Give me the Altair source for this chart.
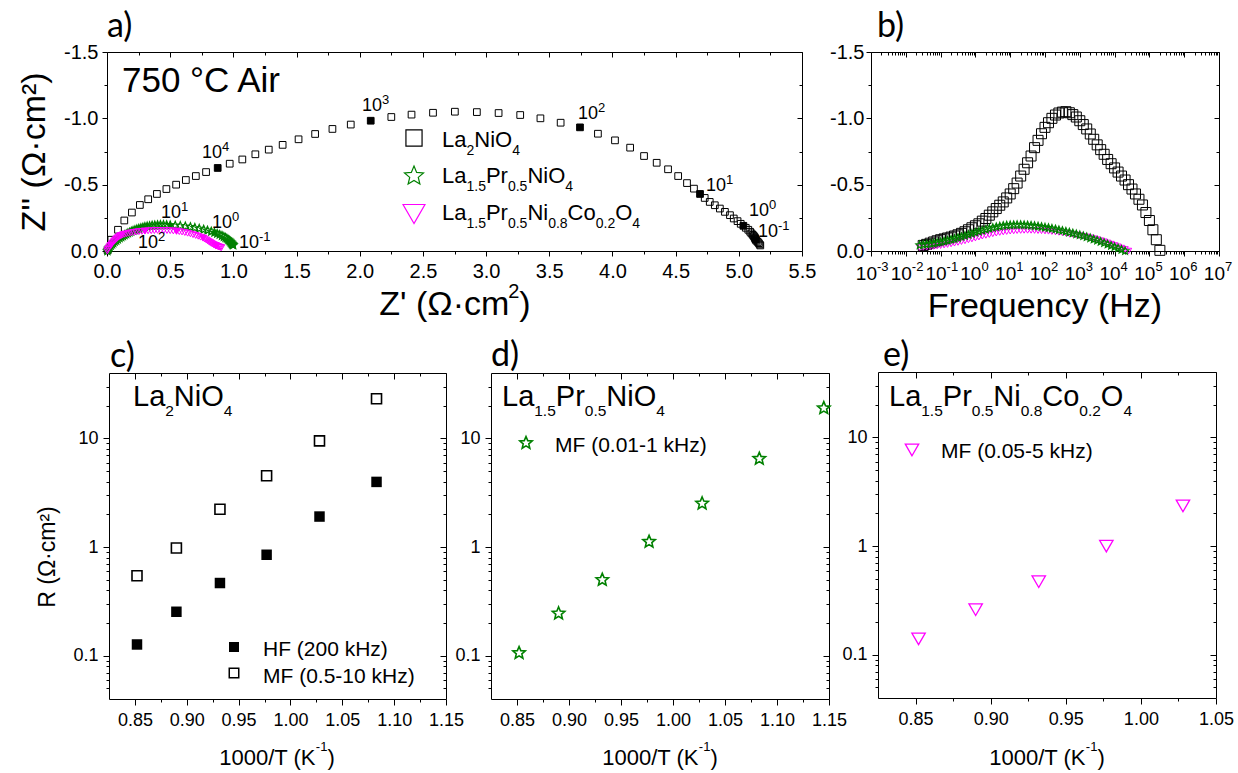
import re
import altair as alt
import pandas as pd

W, H = 1238, 773
FONT = "Liberation Sans"
LETTER_FONT = "Lato"
GREEN = "#008000"
MAGENTA = "#FF00FF"
STAR = ("M0,-1L0.265,-0.364L0.951,-0.309L0.428,0.139L0.588,0.809L0,0.45"
        "L-0.588,0.809L-0.428,0.139L-0.951,-0.309L-0.265,-0.364Z")

# ---------------- data ----------------
FREQ_HZ = [200000, 158000, 126000, 100000, 79400, 63100, 50100, 39800, 31600, 25100,
           20000, 15800, 12600, 10000, 7940, 6310, 5010, 3980, 3160, 2510,
           2000, 1580, 1260, 1000, 794, 631, 501, 398, 316, 251,
           200, 158, 126, 100, 79.4, 63.1, 50.1, 39.8, 31.6, 25.1,
           20.0, 15.8, 12.6, 10.0, 7.94, 6.31, 5.01, 3.98, 3.16, 2.51,
           2.00, 1.58, 1.26, 1.00, 0.794, 0.631, 0.501, 0.398, 0.316, 0.251,
           0.200, 0.158, 0.126, 0.100, 0.0794, 0.0631, 0.0501, 0.0398, 0.0316, 0.0251]

# La2NiO4 (FREQ_HZ[0:69])
LNO_ZRE = [0.005, 0.034, 0.087, 0.137, 0.197, 0.26, 0.326, 0.395, 0.47, 0.547,
           0.624, 0.703, 0.784, 0.876, 0.971, 1.071, 1.174, 1.28, 1.39, 1.516,
           1.647, 1.784, 1.929, 2.087, 2.25, 2.41, 2.58, 2.753, 2.927, 3.099,
           3.27, 3.43, 3.59, 3.743, 3.885, 4.02, 4.14, 4.25, 4.35, 4.44,
           4.52, 4.59, 4.645, 4.693, 4.73, 4.77, 4.81, 4.85, 4.89, 4.93,
           4.96, 4.99, 5.015, 5.036, 5.055, 5.075, 5.09, 5.10, 5.11, 5.118,
           5.124, 5.128, 5.131, 5.134, 5.14, 5.15, 5.158, 5.165, 5.17]
LNO_NZIM = [0.005, 0.085, 0.16, 0.23, 0.29, 0.347, 0.39, 0.43, 0.467, 0.50,
            0.535, 0.565, 0.595, 0.626, 0.658, 0.69, 0.729, 0.764, 0.80, 0.842,
            0.882, 0.92, 0.953, 0.982, 1.01, 1.028, 1.042, 1.05, 1.047, 1.04,
            1.025, 1.0, 0.967, 0.932, 0.884, 0.834, 0.779, 0.716, 0.665, 0.616,
            0.565, 0.512, 0.47, 0.43, 0.40, 0.37, 0.345, 0.32, 0.295, 0.27,
            0.245, 0.225, 0.205, 0.19, 0.175, 0.16, 0.145, 0.133, 0.122, 0.113,
            0.105, 0.098, 0.091, 0.085, 0.077, 0.068, 0.059, 0.05, 0.042]

# La1.5Pr0.5NiO4 (FREQ_HZ[10:70])
LPN_ZRE = [0.003, 0.008, 0.014, 0.021, 0.03, 0.04, 0.05, 0.061, 0.073, 0.086,
           0.1, 0.113, 0.126, 0.139, 0.152, 0.165, 0.178, 0.192, 0.206, 0.221,
           0.236, 0.252, 0.268, 0.284, 0.30, 0.318, 0.337, 0.357, 0.378, 0.40,
           0.423, 0.447, 0.472, 0.50, 0.54, 0.58, 0.62, 0.66, 0.695, 0.73,
           0.765, 0.795, 0.825, 0.85, 0.872, 0.892, 0.91, 0.925, 0.938, 0.949,
           0.958, 0.966, 0.972, 0.977, 0.982, 0.986, 0.99, 0.993, 0.996, 0.999]
LPN_NZIM = [0.0, 0.01, 0.02, 0.03, 0.04, 0.05, 0.06, 0.07, 0.079, 0.088,
            0.097, 0.105, 0.113, 0.12, 0.127, 0.134, 0.14, 0.147, 0.153, 0.158,
            0.164, 0.169, 0.174, 0.178, 0.182, 0.186, 0.189, 0.192, 0.194, 0.196,
            0.197, 0.197, 0.196, 0.195, 0.193, 0.19, 0.186, 0.181, 0.175, 0.169,
            0.162, 0.155, 0.147, 0.139, 0.131, 0.123, 0.115, 0.107, 0.1, 0.093,
            0.086, 0.08, 0.074, 0.068, 0.063, 0.058, 0.054, 0.05, 0.047, 0.044]

# La1.5Pr0.5Ni0.8Co0.2O4 (FREQ_HZ[9:70])
LPNC_ZRE = [0.002, 0.006, 0.012, 0.02, 0.03, 0.037, 0.045, 0.053, 0.061, 0.069,
            0.077, 0.085, 0.093, 0.101, 0.11, 0.122, 0.136, 0.152, 0.17, 0.189,
            0.209, 0.231, 0.253, 0.276, 0.30, 0.325, 0.35, 0.375, 0.40, 0.425,
            0.45, 0.475, 0.50, 0.525, 0.55, 0.572, 0.594, 0.616, 0.638, 0.66,
            0.681, 0.702, 0.722, 0.741, 0.76, 0.773, 0.785, 0.796, 0.806, 0.816,
            0.825, 0.834, 0.843, 0.851, 0.86, 0.868, 0.876, 0.884, 0.891, 0.898,
            0.905]
LPNC_NZIM = [0.0, 0.012, 0.022, 0.032, 0.042, 0.052, 0.061, 0.07, 0.078, 0.086,
             0.093, 0.1, 0.106, 0.111, 0.116, 0.121, 0.125, 0.129, 0.133, 0.137,
             0.14, 0.143, 0.146, 0.148, 0.15, 0.152, 0.153, 0.154, 0.155, 0.155,
             0.155, 0.154, 0.153, 0.151, 0.149, 0.146, 0.143, 0.139, 0.134, 0.129,
             0.123, 0.117, 0.111, 0.104, 0.097, 0.09, 0.083, 0.076, 0.07, 0.064,
             0.058, 0.053, 0.048, 0.044, 0.04, 0.037, 0.034, 0.031, 0.029, 0.027,
             0.025]

MARKED_FREQ = [10000, 1000, 100, 10.0, 1.00, 0.100]

INV_T = [0.852, 0.890, 0.932, 0.977, 1.028, 1.083, 1.145]
R_LNO_HF = [0.127, 0.254, 0.467, 0.85, 1.91, 3.98]
R_LNO_MF = [0.545, 0.98, 2.23, 4.53, 9.5, 23.2]
R_LPN_MF = [0.106, 0.245, 0.50, 1.12, 2.52, 6.5, 19.0]
R_LPNC_MF = [0.14, 0.26, 0.47, 1.0, 2.34]

DECADES = [0.001, 0.01, 0.1, 1, 10, 100, 1000, 10000, 100000, 1000000, 10000000]
DECADE_EXP = ["-3", "-2", "-1", "0", "1", "2", "3", "4", "5", "6", "7"]


def frame(f, zre, nzim):
    d = pd.DataFrame({"f": f, "zre": zre, "nzim": nzim})
    d["marked"] = d["f"].isin(MARKED_FREQ)
    return d


lno = frame(FREQ_HZ[0:69], LNO_ZRE, LNO_NZIM)
lpn = frame(FREQ_HZ[10:70], LPN_ZRE, LPN_NZIM)
lpnc = frame(FREQ_HZ[9:70], LPNC_ZRE, LPNC_NZIM)
arr_c = pd.DataFrame({"t": INV_T[:6], "hf": R_LNO_HF, "mf": R_LNO_MF})
arr_d = pd.DataFrame({"t": INV_T[:7], "mf": R_LPN_MF})
arr_e = pd.DataFrame({"t": INV_T[:5], "mf": R_LPNC_MF})

# ---------------- layout ----------------
P = {
    "a": (107, 802, 52, 251),
    "b": (871, 1219, 52, 251),
    "c": (109, 446, 373, 699),
    "d": (491, 829, 373, 699),
    "e": (878, 1216, 372, 698),
}
DOM = {
    "a": ((0, 5.5, "linear"), (0, 1.5, "linear")),
    "b": ((1e-3, 1e7, "log"), (0, 1.5, "linear")),
    "c": ((0.825, 1.15, "linear"), (0.04, 40, "log")),
    "d": ((0.825, 1.15, "linear"), (0.04, 40, "log")),
    "e": ((0.825, 1.05, "linear"), (0.04, 40, "log")),
}


def sx(p):
    lo, hi, t = DOM[p][0]
    x0, x1, y0, y1 = P[p]
    return alt.Scale(type=t, domain=[lo, hi], range=[x0, x1], nice=False)


def sy(p):
    lo, hi, t = DOM[p][1]
    x0, x1, y0, y1 = P[p]
    return alt.Scale(type=t, domain=[lo, hi], range=[y1, y0], nice=False)


def axis(orient, offset, values, tick, domain, labels=False, expr=None, fs=18, pad=4):
    kw = dict(orient=orient, offset=offset, values=values, tickSize=tick, domain=domain,
              labels=labels, grid=False, title=None, ticks=True, tickColor="black",
              tickWidth=1, domainColor="black", domainWidth=1, labelFlush=False,
              labelOverlap=False)
    if labels:
        kw.update(labelExpr=expr, labelFont=FONT, labelFontSize=fs,
                  labelColor="black", labelPadding=pad)
    return alt.Axis(**kw)


def axis_layer(p, xa, ya):
    (xl, _, _), (yl, _, _) = DOM[p]
    d = pd.DataFrame({"x": [xl], "y": [yl]})
    return alt.Chart(d).mark_point(opacity=0).encode(
        x=alt.X("x:Q", scale=sx(p), axis=xa),
        y=alt.Y("y:Q", scale=sy(p), axis=ya))


def panel_axes(p, xmaj, xmin, ymaj, ymin, xexpr, yexpr, tmaj, tmin, fs, xpad, ypad, xlabels=True):
    x0, x1, y0, y1 = P[p]
    return [
        axis_layer(p, axis("bottom", y1 - H, xmaj, tmaj, True, xlabels, xexpr, fs, xpad),
                   axis("left", -x0, ymaj, tmaj, True, True, yexpr, fs, ypad)),
        axis_layer(p, axis("bottom", y1 - H, xmin, tmin, False),
                   axis("left", -x0, ymin, tmin, False)),
        axis_layer(p, axis("bottom", y0 - H, xmaj, tmaj, True),
                   axis("left", -x1, ymaj, tmaj, True)),
        axis_layer(p, axis("bottom", y0 - H, xmin, tmin, False),
                   axis("left", -x1, ymin, tmin, False)),
    ]


def pts(df, p, xf, yf, shape, color, size, filled, sw=1.0):
    return alt.Chart(df).mark_point(shape=shape, filled=filled, color=color, size=size,
                                    strokeWidth=sw, opacity=1).encode(
        x=alt.X(f"{xf}:Q", scale=sx(p), axis=None),
        y=alt.Y(f"{yf}:Q", scale=sy(p), axis=None))


def sym_px(x, y, shape, color, size, filled, sw=1.0):
    d = pd.DataFrame({"px": [x], "py": [y]})
    return alt.Chart(d).mark_point(shape=shape, filled=filled, color=color, size=size,
                                   strokeWidth=sw, opacity=1).encode(
        x=alt.X("px:Q", scale=None, axis=None),
        y=alt.Y("py:Q", scale=None, axis=None))


# Arial / Liberation Sans advance widths (per 1000 em)
AW = {" ": 278, "(": 333, ")": 333, "-": 333, ".": 278, "/": 278, "·": 278, "°": 400,
      "Ω": 768, "'": 191, "²": 333}
for ch in "0123456789":
    AW[ch] = 556
AW.update(dict(A=667, C=722, F=611, H=722, K=667, L=556, M=833, N=722, O=778, P=667,
               R=722, T=611, Z=611))
AW.update(dict(a=556, c=500, e=556, i=222, k=500, m=833, n=556, o=556, q=556, r=333,
               u=556, y=500, z=500))


def tw(s, fs):
    return sum(AW.get(ch, 556) for ch in s) * fs / 1000.0


def parse(markup):
    out = []
    for m in re.finditer(r"_\{([^}]*)\}|\^\{([^}]*)\}|([^_^]+)", markup):
        if m.group(1) is not None:
            out.append((m.group(1), "sub"))
        elif m.group(2) is not None:
            out.append((m.group(2), "sup"))
        else:
            out.append((m.group(3), "n"))
    return out


def rich(markup, x, y, fs, sfs, sub_dy, sup_dy, center=False):
    segs = parse(markup)
    sizes = [fs if k == "n" else sfs for _, k in segs]
    total = sum(tw(t, f) for (t, _), f in zip(segs, sizes))
    cx = x - total / 2 if center else x
    rows = []
    for (t, k), f in zip(segs, sizes):
        dy = 0 if k == "n" else (sub_dy if k == "sub" else -sup_dy)
        rows.append(dict(t=t, px=cx, py=y + dy, fs=f))
        cx += tw(t, f)
    return rows


def text_layer(rows, font=FONT, align="left", angle=None, color="black"):
    d = pd.DataFrame(rows)
    kw = dict(font=font, align=align, baseline="alphabetic", color=color)
    if angle is not None:
        kw["angle"] = angle
    return alt.Chart(d).mark_text(**kw).encode(
        x=alt.X("px:Q", scale=None, axis=None),
        y=alt.Y("py:Q", scale=None, axis=None),
        text="t:N",
        size=alt.Size("fs:Q", scale=None, legend=None))


layers = []

# ---------------- axes ----------------
NEG_EXPR = "datum.value == 0 ? '0.0' : '-' + format(datum.value, '.1f')"
a_xmaj = [0, 0.5, 1.0, 1.5, 2.0, 2.5, 3.0, 3.5, 4.0, 4.5, 5.0, 5.5]
a_xmin = [0.25, 0.75, 1.25, 1.75, 2.25, 2.75, 3.25, 3.75, 4.25, 4.75, 5.25]
yz_maj = [0, 0.5, 1.0, 1.5]
yz_min = [0.25, 0.75, 1.25]
layers += panel_axes("a", a_xmaj, a_xmin, yz_maj, yz_min, "format(datum.value, '.1f')",
                     NEG_EXPR, 5, 3, 20, 5, 4)
b_xmin = [m * d for d in DECADES[:-1] for m in range(2, 10)]
layers += panel_axes("b", DECADES, b_xmin, yz_maj, yz_min, None, NEG_EXPR, 5, 3, 20, 5, 2,
                     xlabels=False)
r_maj = [0.1, 1, 10]
r_min = [0.05, 0.06, 0.07, 0.08, 0.09, 0.2, 0.3, 0.4, 0.5, 0.6, 0.7, 0.8, 0.9,
         2, 3, 4, 5, 6, 7, 8, 9, 20, 30]
t_maj = [0.85, 0.90, 0.95, 1.00, 1.05, 1.10, 1.15]
t_min = [0.875, 0.925, 0.975, 1.025, 1.075, 1.125]
for p, xm, xn in [("c", t_maj, t_min), ("d", t_maj, t_min),
                  ("e", t_maj[:5], t_min[:4])]:
    layers += panel_axes(p, xm, xn, r_maj, r_min, "format(datum.value, '.2f')",
                         "format(datum.value, '~g')", 6, 3, 18, 6, 5)

# ---------------- panel a: Nyquist ----------------
layers += [
    pts(lno, "a", "zre", "nzim", "square", "black", 45, False),
    pts(lno[lno.marked], "a", "zre", "nzim", "square", "black", 45, True),
    pts(lpn, "a", "zre", "nzim", STAR, GREEN, 70, False, 1.2),
    pts(lpn[lpn.marked], "a", "zre", "nzim", STAR, GREEN, 70, True),
    pts(lpnc, "a", "zre", "nzim", "triangle-down", MAGENTA, 45, False),
    pts(lpnc[lpnc.marked], "a", "zre", "nzim", "triangle-down", MAGENTA, 64, True),
]

# ---------------- panel b: Bode ----------------
layers += [
    pts(lno, "b", "f", "nzim", "square", "black", 100, False),
    pts(lpnc, "b", "f", "nzim", "triangle-down", MAGENTA, 40, False),
    pts(lpn, "b", "f", "nzim", STAR, GREEN, 64, False, 1.2),
]
dec_df = pd.DataFrame({"f": DECADES, "e": DECADE_EXP})
layers.append(alt.Chart(dec_df).mark_text(font=FONT, fontSize=19, align="right",
                                          baseline="alphabetic", dx=6, color="black").encode(
    x=alt.X("f:Q", scale=sx("b"), axis=None), y=alt.value(280), text=alt.value("10")))
layers.append(alt.Chart(dec_df).mark_text(font=FONT, fontSize=13, align="left",
                                          baseline="alphabetic", dx=6, color="black").encode(
    x=alt.X("f:Q", scale=sx("b"), axis=None), y=alt.value(271), text="e:N"))

# ---------------- panels c, d, e: Arrhenius ----------------
layers += [
    pts(arr_c, "c", "t", "hf", "square", "black", 110, True),
    pts(arr_c, "c", "t", "mf", "square", "black", 100, False, 1.6),
    pts(arr_d, "d", "t", "mf", STAR, GREEN, 170, False, 1.6),
    pts(arr_e, "e", "t", "mf", "triangle-down", MAGENTA, 180, False, 1.3),
]

# ---------------- legends (symbols) ----------------
layers += [
    sym_px(414, 138, "square", "black", 260, False, 1.2),
    sym_px(414, 176, STAR, GREEN, 400, False, 1.2),
    sym_px(414, 214, "triangle-down", MAGENTA, 480, False, 1.2),
    sym_px(234, 647, "square", "black", 100, True),
    sym_px(234, 673, "square", "black", 90, False, 1.5),
    sym_px(526, 443, STAR, GREEN, 170, False, 1.6),
    sym_px(912, 450, "triangle-down", MAGENTA, 180, False, 1.3),
]

# ---------------- texts ----------------
rows = []
rows += [dict(t="750 °C Air", px=122, py=92, fs=35)]
rows += rich("La_{2}NiO_{4}", 442, 147, 22, 14, 8, 0)
rows += rich("La_{1.5}Pr_{0.5}NiO_{4}", 442, 183, 22, 14, 8, 0)
rows += rich("La_{1.5}Pr_{0.5}Ni_{0.8}Co_{0.2}O_{4}", 442, 220, 22, 14, 8, 0)
FREQ_LABELS = [(202, 158, "4"), (362, 111, "3"), (578, 119, "2"), (706, 191, "1"),
               (749, 216, "0"), (758, 237, "-1"), (161, 218, "1"), (212, 228, "0"),
               (138, 248, "2"), (239, 248, "-1")]
for x, y, e in FREQ_LABELS:
    rows += rich("10^{" + e + "}", x, y, 18, 13, 0, 7)
rows += rich("La_{2}NiO_{4}", 133, 406, 29, 15.5, 10, 0)
rows += rich("La_{1.5}Pr_{0.5}NiO_{4}", 502, 406, 29, 15.5, 10, 0)
rows += rich("La_{1.5}Pr_{0.5}Ni_{0.8}Co_{0.2}O_{4}", 889, 406, 29, 15.5, 10, 0)
rows += [dict(t="HF (200 kHz)", px=263, py=656, fs=21),
         dict(t="MF (0.5-10 kHz)", px=263, py=683, fs=21),
         dict(t="MF (0.01-1 kHz)", px=555, py=452, fs=21),
         dict(t="MF (0.05-5 kHz)", px=941, py=458, fs=21)]
for cx in (277, 660, 1047):
    rows += rich("1000/T (K^{-1})", cx, 765, 22, 13, 0, 14, center=True)
rows += rich("Z' (Ω·cm^{2})", 455, 315, 34, 20, 0, 17, center=True)
rows += rich("Frequency (Hz)", 1045, 317, 34, 20, 0, 0, center=True)
layers.append(text_layer(rows))

layers.append(text_layer([dict(t="Z'' (Ω·cm²)", px=45, py=152, fs=34),
                          dict(t="R (Ω·cm²)", px=55, py=557, fs=23)],
                         align="center", angle=270))
layers.append(text_layer([dict(t="a)", px=107, py=37, fs=34),
                          dict(t="b)", px=877, py=37, fs=34),
                          dict(t="c)", px=110, py=367, fs=34),
                          dict(t="d)", px=491, py=366, fs=34),
                          dict(t="e)", px=883, py=366, fs=34)], font=LETTER_FONT))

chart = alt.layer(*layers).resolve_scale(x="independent", y="independent").properties(
    width=W, height=H, padding=0, autosize=alt.AutoSizeParams(type="none")
).configure_view(strokeWidth=0)

chart.save("out.html", embed_options={"renderer": "svg", "actions": False})
